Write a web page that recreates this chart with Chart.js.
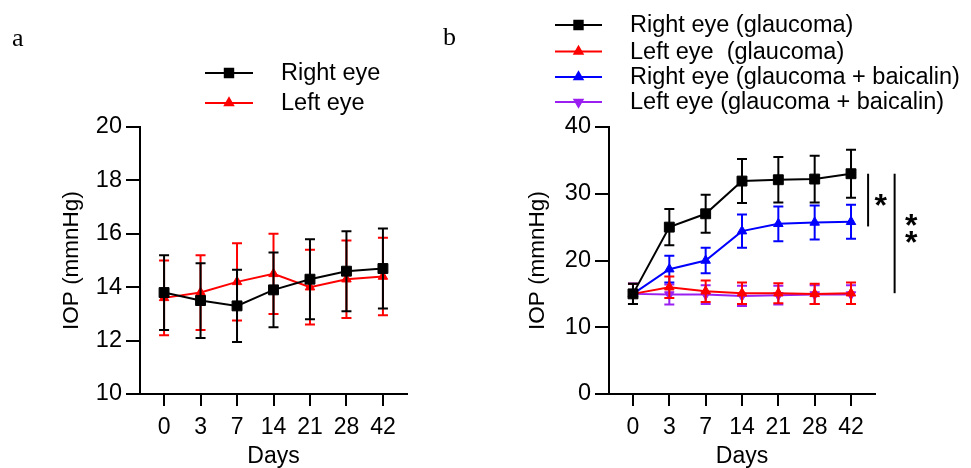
<!DOCTYPE html>
<html><head><meta charset="utf-8">
<script src="https://cdn.jsdelivr.net/npm/chart.js@4/dist/chart.umd.min.js"></script>
<style>
html,body{margin:0;padding:0;background:#fff;}
#wrap{position:relative;width:971px;height:468px;overflow:hidden;background:#fff;}
#ca{position:absolute;left:0;top:0;}
#cb{position:absolute;left:440px;top:0;}
.pl{position:absolute;font-family:"Liberation Serif","Times New Roman",serif;font-size:26px;color:#000;line-height:1;}
</style></head><body>
<div id="wrap">
<canvas id="ca" width="440" height="468"></canvas>
<canvas id="cb" width="531" height="468"></canvas>
<div class="pl" style="left:12px;top:25px;">a</div>
<div class="pl" style="left:443px;top:24px;">b</div>
</div>
<script>
// ---- data ----
const days = ['0','3','7','14','21','28','42'];
const aRight = [13.8,13.5,13.3,13.9,14.3,14.6,14.7];
const aRightErr = [1.4,1.4,1.35,1.4,1.5,1.5,1.5];
const aLeft = [13.6,13.8,14.2,14.5,14.0,14.3,14.4];
const aLeftErr = [1.4,1.4,1.45,1.5,1.4,1.45,1.45];
const bRightG = [15.0,25.0,27.0,31.9,32.1,32.2,33.0];
const bRightGErr = [1.5,2.7,2.85,3.3,3.4,3.5,3.6];
const bLeftG = [15.0,16.0,15.4,15.1,15.1,15.0,15.1];
const bLeftGErr = [1.5,1.6,1.6,1.6,1.5,1.5,1.6];
const bRightB = [15.0,18.7,20.0,24.4,25.5,25.7,25.8];
const bRightBErr = [1.5,2.0,1.9,2.5,2.6,2.55,2.55];
const bLeftB = [15.0,14.9,14.9,14.7,14.8,14.9,14.9];
const bLeftBErr = [1.5,1.5,1.4,1.5,1.4,1.4,1.4];
const yTicksA = [10,12,14,16,18,20];
const yTicksB = [0,10,20,30,40];
const labelsA = ['Right eye','Left eye'];
const labelsB = ['Right eye (glaucoma)','Left eye  (glaucoma)','Right eye (glaucoma + baicalin)','Left eye (glaucoma + baicalin)'];
const yTitle = 'IOP (mmnHg)';
const xTitle = 'Days';

const FONT = '"Liberation Sans", Arial, sans-serif';
Chart.defaults.font.family = FONT;
Chart.defaults.color = '#000';

const pts = arr => arr.map((v,i)=>({x:i,y:v}));

const errorBars = {
  id:'errorBars',
  beforeDatasetDraw(chart, args){
    const ds = chart.data.datasets[args.index];
    if(!ds.errors) return;
    const ctx = chart.ctx, ys = chart.scales.y;
    ctx.save();
    ctx.strokeStyle = ds.errColor || ds.borderColor;
    ctx.lineWidth = 2;
    ctx.lineCap = 'butt';
    args.meta.data.forEach((el,i)=>{
      const v = ds.data[i].y, e = ds.errors[i];
      const t = ys.getPixelForValue(v+e), b = ys.getPixelForValue(v-e);
      ctx.beginPath();
      ctx.moveTo(el.x,t); ctx.lineTo(el.x,b);
      ctx.moveTo(el.x-5,t); ctx.lineTo(el.x+5,t);
      ctx.moveTo(el.x-5,b); ctx.lineTo(el.x+5,b);
      ctx.stroke();
    });
    ctx.restore();
  }
};

const customLegend = {
  id:'customLegend',
  afterDraw(chart, args, opts){
    const ctx = chart.ctx;
    ctx.save();
    chart.data.datasets.forEach((ds,i)=>{
      const y = opts.rows[i];
      ctx.strokeStyle = ds.borderColor; ctx.lineWidth = 2;
      ctx.beginPath(); ctx.moveTo(opts.x1,y); ctx.lineTo(opts.x2,y); ctx.stroke();
      ctx.fillStyle = ds.pointBackgroundColor; ctx.strokeStyle = ds.borderColor;
      Chart.helpers.drawPoint(ctx,{pointStyle:ds.pointStyle,rotation:ds.pointRotation||0,radius:ds.pointRadius*0.85,borderWidth:1},(opts.x1+opts.x2)/2,y);
      ctx.fillStyle = '#000';
      ctx.font = opts.fontSize+'px '+FONT;
      ctx.textBaseline = 'middle'; ctx.textAlign = 'left';
      ctx.fillText(ds.label, opts.tx, y+1);
    });
    ctx.restore();
  }
};

const sigMarks = {
  id:'sigMarks',
  afterDraw(chart, args, opts){
    if(!opts.items) return;
    const ctx = chart.ctx, xs = chart.scales.x, ys = chart.scales.y;
    ctx.save();
    ctx.strokeStyle = '#000'; ctx.fillStyle = '#000'; ctx.lineWidth = 2;
    ctx.font = 'bold 32px '+FONT;
    ctx.textAlign = 'center'; ctx.textBaseline = 'alphabetic';
    const m = ctx.measureText('*');
    const asc = m.actualBoundingBoxAscent, desc = m.actualBoundingBoxDescent;
    opts.items.forEach(it=>{
      const x = xs.getPixelForValue(it.lineX);
      ctx.beginPath(); ctx.moveTo(x, ys.getPixelForValue(it.from)); ctx.lineTo(x, ys.getPixelForValue(it.to)); ctx.stroke();
      const sx = xs.getPixelForValue(it.starX);
      it.starY.forEach(sv=>{
        const cy = ys.getPixelForValue(sv);
        ctx.fillText('*', sx, cy + (asc - desc)/2);
      });
    });
    ctx.restore();
  }
};

function makeScales(yTicks, yMin, yMax, yWidth){
  return {
    x:{
      type:'linear', min:-0.66, max:6.66,
      afterBuildTicks:s=>{ s.ticks = days.map((d,i)=>({value:i})); },
      afterFit:s=>{ s.height = 74; },
      ticks:{ callback:v=>days[v], font:{size:23}, padding:8, maxRotation:0, autoSkip:false, color:'#000'},
      grid:{ drawOnChartArea:false, drawTicks:true, tickLength:12, color:'#000', lineWidth:2 },
      border:{ display:true, color:'#000', width:2 },
      title:{ display:true, text:xTitle, font:{size:23}, padding:{top:0,bottom:-2}, color:'#000' }
    },
    y:{
      type:'linear', min:yMin, max:yMax,
      afterBuildTicks:s=>{ s.ticks = yTicks.map(v=>({value:v})); },
      afterFit:s=>{ s.width = yWidth; },
      ticks:{ font:{size:23.5}, padding:4, color:'#000'},
      grid:{ drawOnChartArea:false, drawTicks:true, tickLength:14, color:'#000', lineWidth:2 },
      border:{ display:true, color:'#000', width:2 },
      title:{ display:true, text:yTitle, font:{size:22.5}, padding:0, color:'#000' }
    }
  };
}

function ds(label, data, err, color, style, radius, rot){
  return { label, data:pts(data), errors:err, borderColor:color, backgroundColor:color,
    pointBackgroundColor:color, pointBorderColor:color, pointStyle:style, pointRadius:radius,
    pointRotation:rot||0, pointBorderWidth:1, borderWidth:2, tension:0, clip:false, pointHoverRadius:radius };
}

new Chart(document.getElementById('ca'),{
  type:'line',
  data:{ datasets:[
    ds(labelsA[0], aRight, aRightErr, '#000000', 'rect', 7),
    ds(labelsA[1], aLeft, aLeftErr, '#ff0000', 'triangle', 5.5)
  ]},
  options:{
    responsive:false, animation:false, events:[],
    layout:{ padding:{ left:58, right:33, top:127, bottom:0 } },
    scales: makeScales(yTicksA, 10, 20, 82),
    plugins:{ legend:{display:false}, tooltip:{enabled:false},
      customLegend:{ x1:205, x2:253, tx:281, rows:[73,103], fontSize:23.5 } }
  },
  plugins:[errorBars, customLegend]
});

new Chart(document.getElementById('cb'),{
  type:'line',
  data:{ datasets:[
    ds(labelsB[0], bRightG, bRightGErr, '#000000', 'rect', 7),
    ds(labelsB[1], bLeftG, bLeftGErr, '#ff0000', 'triangle', 5.5),
    ds(labelsB[2], bRightB, bRightBErr, '#0000ff', 'triangle', 5.5),
    ds(labelsB[3], bLeftB, bLeftBErr, '#9a1ff0', 'triangle', 5.5, 180)
  ]},
  options:{
    responsive:false, animation:false, events:[],
    layout:{ padding:{ left:84.5, right:96, top:127, bottom:0 } },
    scales: makeScales(yTicksB, 0, 40, 84.5),
    plugins:{ legend:{display:false}, tooltip:{enabled:false},
      customLegend:{ x1:115, x2:162, tx:190, rows:[25,51.5,77,102], fontSize:23.5 },
      sigMarks:{ items:[
        { lineX:6.47, from:33, to:25.1, starX:6.82, starY:[29.0] },
        { lineX:7.2, from:33, to:15.1, starX:7.66, starY:[26.0,23.5] }
      ]}
    }
  },
  plugins:[errorBars, customLegend, sigMarks]
});
</script>
</body></html>
